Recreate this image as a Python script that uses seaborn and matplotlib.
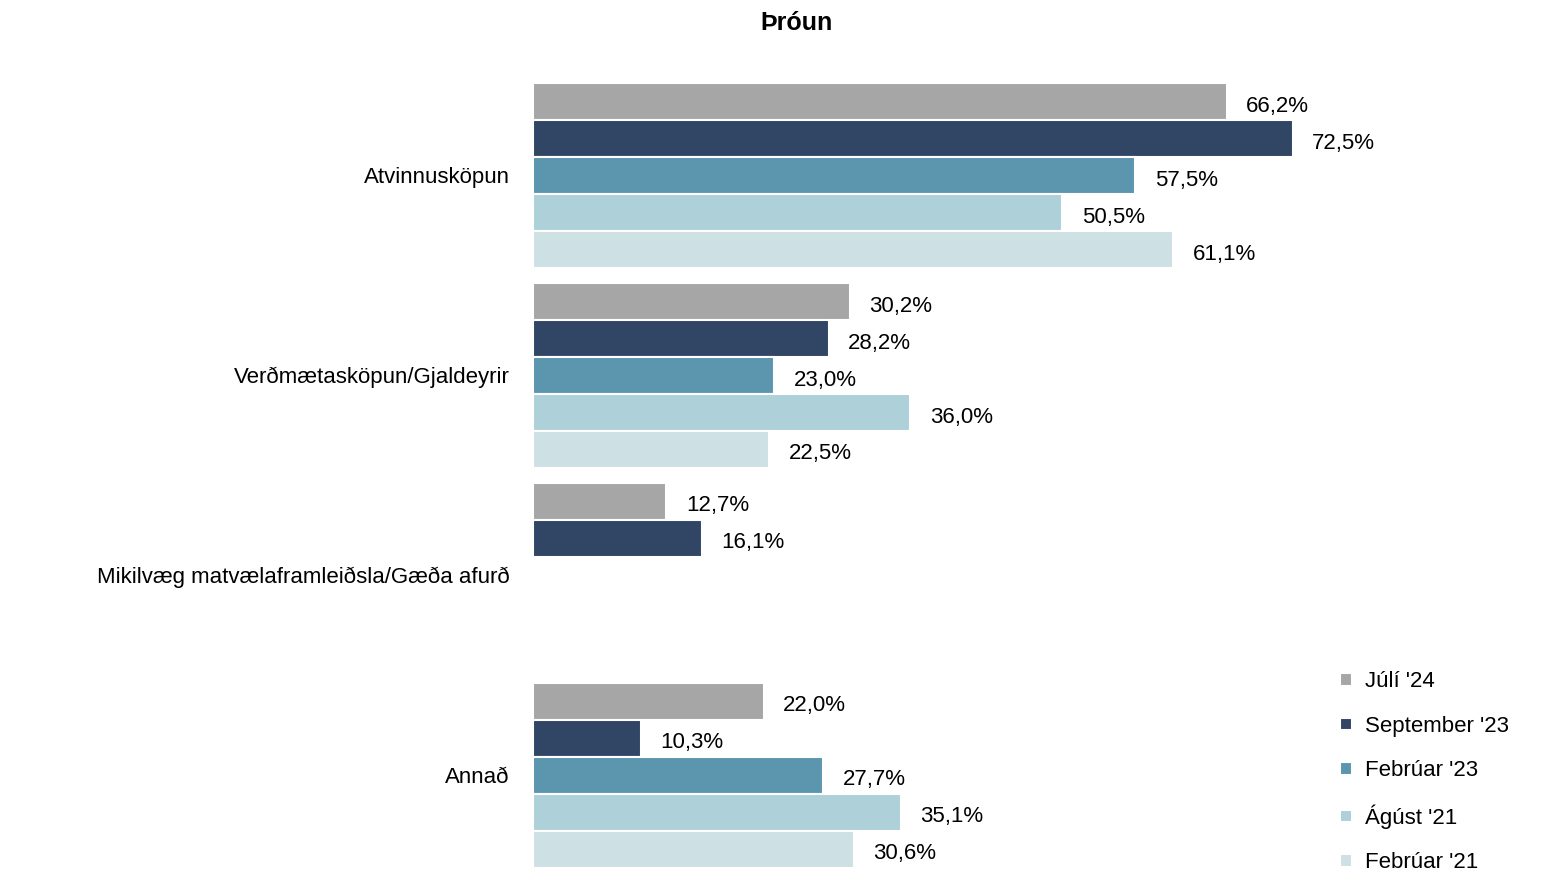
import numpy as np
import pandas as pd
import seaborn as sns
import matplotlib.pyplot as plt

# Data
categories = ['Atvinnusköpun', 'Verðmætasköpun/Gjaldeyrir',
              'Mikilvæg matvælaframleiðsla/Gæða afurð', 'Annað']
periods = ["Júlí '24", "September '23", "Febrúar '23", "Ágúst '21", "Febrúar '21"]
jul24 = [66.2, 30.2, 12.7, 22.0]
sep23 = [72.5, 28.2, 16.1, 10.3]
feb23 = [57.5, 23.0, np.nan, 27.7]
agu21 = [50.5, 36.0, np.nan, 35.1]
feb21 = [61.1, 22.5, np.nan, 30.6]
colors = ['#A6A6A6', '#314565', '#5B95AE', '#ADD0D9', '#CDE0E4']

series = [jul24, sep23, feb23, agu21, feb21]
df = pd.DataFrame([
    {'flokkur': c, 'timabil': p, 'hlutfall': vals[i]}
    for p, vals in zip(periods, series)
    for i, c in enumerate(categories)
])

sns.set_style('white')
plt.rcParams['font.family'] = ['Liberation Sans', 'DejaVu Sans']
plt.rcParams['text.color'] = 'black'

fig = plt.figure(figsize=(15.55, 8.75), dpi=100)
ax = fig.add_axes([0.343, 0.0, 0.5387, 0.914])

sns.barplot(data=df, y='flokkur', x='hlutfall', hue='timabil',
            order=categories, hue_order=periods, palette=colors,
            saturation=1, orient='h', width=0.925, edgecolor='white',
            linewidth=1.5, ax=ax)

# value labels
for cont in ax.containers:
    for bar in cont:
        w = bar.get_width()
        if np.isnan(w) or w == 0:
            continue
        ax.annotate(f'{w:.1f}%'.replace('.', ','),
                    (w, bar.get_y() + bar.get_height() / 2),
                    xytext=(14, -3.5), textcoords='offset points',
                    ha='left', va='center', fontsize=16, color='black',
                    clip_on=False)

ax.set_xlim(0, 80)
ax.set_ylim(len(categories) - 0.5, -0.5)
ax.set_xlabel('')
ax.set_ylabel('')
ax.set_xticks([])
ax.tick_params(axis='y', length=0, pad=17, labelsize=16, labelcolor='black')
sns.despine(ax=ax, left=True, bottom=True)

leg = ax.legend(loc='lower left', frameon=False, fontsize=16,
                handlelength=0.5, handleheight=0.5, handletextpad=0.6,
                labelspacing=1.05, borderaxespad=0, borderpad=0,
                labelcolor='black')
leg.set_bbox_to_anchor((0.862, 0.002), transform=fig.transFigure)

fig.text(0.512, 0.974, 'Þróun', fontsize=18, fontweight='bold',
         ha='center', va='center', color='black')

fig.savefig('out.png', dpi=100)
